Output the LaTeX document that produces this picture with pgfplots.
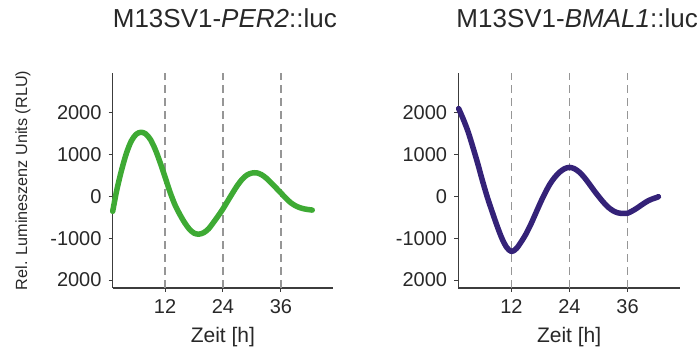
\documentclass[border=0pt]{standalone}
\usepackage{fontspec}
\setmainfont{Liberation Sans}
\usepackage{pgfplots}
\pgfplotsset{compat=1.18}
\definecolor{axgray}{RGB}{60,60,60}
\definecolor{txtgray}{RGB}{40,40,40}
\definecolor{dashgray}{RGB}{150,150,150}
\definecolor{pgreen}{RGB}{62,170,52}
\definecolor{ppurple}{RGB}{52,34,120}
\pgfplotsset{
  panel/.style={
    scale only axis, height=215pt,
    ymin=-2191, ymax=2945,
    axis x line*=bottom, axis y line*=left,
    axis line style={-, draw=axgray, line width=1.1pt},
    xtick={12,24,36}, xticklabels={12,24,36},
    ytick={-2000,-1000,0,1000,2000},
    yticklabels={2000,-1000,0,1000,2000},
    tick align=outside, major tick length=4pt,
    tick style={draw=axgray, line width=1pt},
    ticklabel style={font=\fontsize{20}{23}\selectfont, text=txtgray},
    xticklabel style={anchor=base, inner sep=0pt, yshift=-22pt},
    yticklabel style={anchor=east, inner sep=0pt, xshift=-7pt},
    xlabel={Zeit [h]},
    xlabel style={at={(axis description cs:0.5,0)}, anchor=base, yshift=-55pt, font=\fontsize{21}{24}\selectfont, text=txtgray},
    title style={at={(axis description cs:0.5,1)}, anchor=base, yshift=39.7pt, font=\fontsize{26}{30}\selectfont, text=txtgray},
    clip=false,
  },
  vline/.style={dashgray, line width=1.3pt, dash pattern=on 8pt off 5pt, forget plot},
  curve/.style={line width=5.5pt, smooth, line cap=round, line join=round, no markers},
}
\begin{document}
\begin{tikzpicture}
\useasboundingbox (0,0) rectangle (697pt,350pt);
\begin{axis}[panel, width=220.3pt, at={(112.7pt,62pt)}, anchor=south west,
  xmin=1.15, xmax=46.8,
  title={M13SV1-\textit{PER2}::luc},
  title style={xshift=2pt},
  ylabel={Rel. Lumineszenz Units (RLU)},
  ylabel style={at={(axis description cs:-0.407,0.5)}, anchor=center, font=\fontsize{16.2}{19}\selectfont, text=txtgray},
]
\addplot[vline] coordinates {(12,-2191) (12,2945)};
\addplot[vline] coordinates {(24,-2191) (24,2945)};
\addplot[vline] coordinates {(36,-2191) (36,2945)};
\addplot[curve, pgreen] coordinates {
(1.15,-360) (2,150) (3,630) (4,1030) (5,1320) (6,1480) (7,1530) (8,1490)
(9,1350) (10,1110) (11,800) (12,460) (13,110) (14,-190) (15,-420) (16,-620)
(17,-780) (18,-880) (19,-905) (20,-870) (21,-780) (22,-630) (23,-470) (24,-300)
(25,-110) (26,80) (27,260) (28,410) (29,510) (30,555) (31,560) (32,515)
(33,430) (34,320) (35,200) (36,80) (37,-40) (38,-150) (39,-225) (40,-275)
(41,-305) (42,-322) (42.5,-330)
};
\end{axis}
\begin{axis}[panel, width=221.7pt, at={(458.3pt,62pt)}, anchor=south west,
  xmin=1.0, xmax=46.86,
  title={M13SV1-\textit{BMAL1}::luc},
  title style={xshift=8pt},
]
\addplot[vline] coordinates {(12,-2191) (12,2945)};
\addplot[vline] coordinates {(24,-2191) (24,2945)};
\addplot[vline] coordinates {(36,-2191) (36,2945)};
\addplot[curve, ppurple] coordinates {
(1.07,2095) (2,1850) (3,1550) (4,1180) (5,790) (6,370) (7,-20) (8,-367)
(9,-700) (10,-1000) (11,-1220) (12,-1320) (13,-1250) (14,-1090) (15,-900) (16,-670)
(17,-410) (18,-150) (19,90) (20,300) (21,460) (22,580) (23,660) (24,690)
(25,660) (26,580) (27,460) (28,310) (29,150) (30,0) (31,-140) (32,-260)
(33,-345) (34,-395) (35,-410) (36,-405) (37,-350) (38,-280) (39,-200) (40,-125)
(41,-70) (42,-30) (42.4,-10)
};
\end{axis}
\end{tikzpicture}
\end{document}
